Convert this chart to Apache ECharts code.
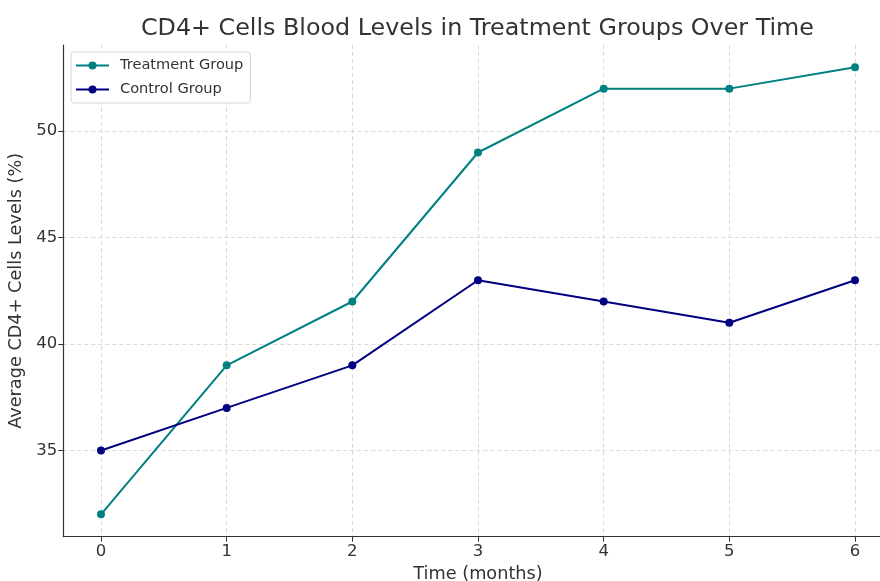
<!DOCTYPE html>
<html><head><meta charset="utf-8">
<script src="https://cdn.jsdelivr.net/npm/echarts@6/dist/echarts.min.js"></script>
<style>html,body{margin:0;padding:0;background:#fff}#c{width:880px;height:581px}</style>
</head><body><div id="c"></div>
<script>
const months = [0, 1, 2, 3, 4, 5, 6];
const treatment = [32, 39, 42, 49, 52, 52, 53];
const control = [35, 37, 39, 43, 42, 41, 43];
const xTicks = [0, 1, 2, 3, 4, 5, 6];
const yTicks = [35, 40, 45, 50];

const font = 'DejaVu Sans';
const chart = echarts.init(document.getElementById('c'), null, {renderer: 'canvas'});
chart.setOption({
  animation: false,
  backgroundColor: '#fff',
  title: {
    text: 'CD4+ Cells Blood Levels in Treatment Groups Over Time',
    left: 141, top: 17,
    padding: 0,
    textStyle: {fontFamily: font, fontSize: 23.8, fontWeight: 'normal', color: '#333'}
  },
  legend: {
    orient: 'vertical', left: 71, top: 52,
    itemWidth: 33, itemHeight: 10, itemGap: 9,
    padding: [6, 7, 6, 4],
    backgroundColor: '#fff', borderColor: '#d6d6d6', borderWidth: 1, borderRadius: 3,
    textStyle: {fontFamily: font, fontSize: 14.6, color: '#333', padding: [0, 0, 0, 6]},
    data: ['Treatment Group', 'Control Group']
  },
  grid: {left: 63.3, right: -12.7, top: 45, bottom: 44.3, containLabel: false, outerBoundsMode: 'none'},
  xAxis: {
    type: 'value', min: -0.3, max: 6.3,
    name: 'Time (months)', nameLocation: 'middle', nameGap: 24,
    nameTextStyle: {fontFamily: font, fontSize: 17.7, color: '#333'},
    axisLine: {show: true, onZero: false, lineStyle: {color: '#333', width: 1.2}},
    axisTick: {show: true, length: 5, lineStyle: {color: '#333'}, customValues: xTicks},
    axisLabel: {fontFamily: font, fontSize: 16.5, color: '#333', margin: 7, customValues: xTicks},
    splitLine: {show: true, lineStyle: {color: '#d0d0d0', type: [4, 3], width: 0.8}}
  },
  yAxis: {
    type: 'value', min: 30.95, max: 54.05,
    name: 'Average CD4+ Cells Levels (%)', nameLocation: 'middle', nameGap: 29,
    nameTextStyle: {fontFamily: font, fontSize: 17.7, color: '#333'},
    axisLine: {show: true, onZero: false, lineStyle: {color: '#333', width: 1.2}},
    axisTick: {show: true, length: 5, lineStyle: {color: '#333'}, customValues: yTicks},
    axisLabel: {fontFamily: font, fontSize: 16.5, color: '#333', margin: 6, customValues: yTicks},
    splitLine: {show: true, lineStyle: {color: '#d0d0d0', type: [4, 3], width: 0.8}}
  },
  series: [
    {
      name: 'Treatment Group', type: 'line',
      data: months.map((m, i) => [m, treatment[i]]),
      symbol: 'circle', symbolSize: 8,
      lineStyle: {color: '#008080', width: 2},
      itemStyle: {color: '#008080'}
    },
    {
      name: 'Control Group', type: 'line',
      data: months.map((m, i) => [m, control[i]]),
      symbol: 'circle', symbolSize: 8,
      lineStyle: {color: '#000080', width: 2},
      itemStyle: {color: '#000080'}
    }
  ]
});
</script></body></html>
